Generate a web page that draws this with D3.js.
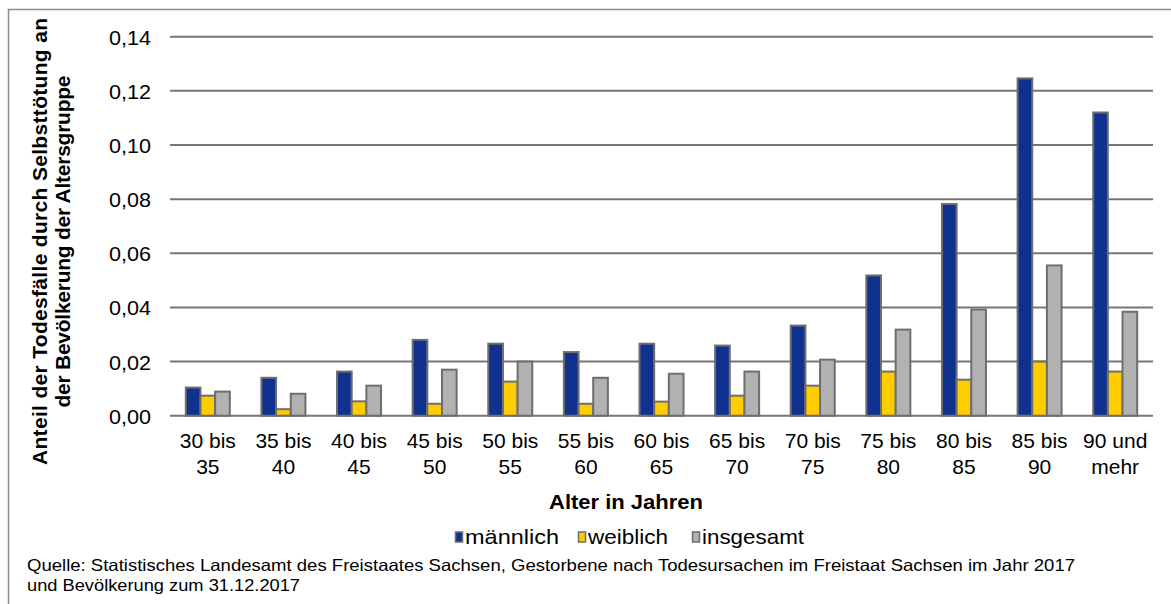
<!DOCTYPE html>
<html>
<head>
<meta charset="utf-8">
<script src="https://cdn.jsdelivr.net/npm/d3@7"></script>
<style>
  body { margin: 0; background: #fff; }
  text { font-family: "Liberation Sans", Arial, sans-serif; fill: #000; }
</style>
</head>
<body>
<div class="bar-chart"></div>
<script>
// Altersgruppen (two lines each)
var categories = [
  ["30 bis", "35"], ["35 bis", "40"], ["40 bis", "45"], ["45 bis", "50"],
  ["50 bis", "55"], ["55 bis", "60"], ["60 bis", "65"], ["65 bis", "70"],
  ["70 bis", "75"], ["75 bis", "80"], ["80 bis", "85"], ["85 bis", "90"],
  ["90 und", "mehr"]
];
var maennlich = [0.0104, 0.0140, 0.0163, 0.0280, 0.0266, 0.0235, 0.0266, 0.0259, 0.0333, 0.0518, 0.0782, 0.1246, 0.1120];
var weiblich  = [0.0074, 0.0024, 0.0053, 0.0044, 0.0126, 0.0044, 0.0052, 0.0074, 0.0111, 0.0163, 0.0133, 0.0200, 0.0163];
var insgesamt = [0.0089, 0.0081, 0.0111, 0.0170, 0.0200, 0.0140, 0.0155, 0.0163, 0.0207, 0.0318, 0.0392, 0.0555, 0.0384];
var seriesNames = ["männlich", "weiblich", "insgesamt"];
var seriesColors = ["#10318f", "#ffcc00", "#b2b2b2"];
var yTicks = [0, 0.02, 0.04, 0.06, 0.08, 0.10, 0.12, 0.14];
var yTitle = ["Anteil der Todesfälle durch Selbsttötung an", "der Bevölkerung der Altersgruppe"];
var xTitle = "Alter in Jahren";
var source = ["Quelle: Statistisches Landesamt des Freistaates Sachsen, Gestorbene nach Todesursachen im Freistaat Sachsen im Jahr 2017",
              "und Bevölkerung zum 31.12.2017"];

var width = 1171, height = 604;
var plot = { left: 170, right: 1153, top: 36.7, bottom: 415.7 };

var svg = d3.select(".bar-chart")
  .append("svg")
  .attr("width", width)
  .attr("height", height);

// outer frame
svg.append("rect")
  .attr("x", 8.5).attr("y", 9.5)
  .attr("width", width + 10).attr("height", height + 10)
  .attr("fill", "none")
  .attr("stroke", "#8c8c8c")
  .attr("stroke-width", 1.5);

var rows = categories.map(function (c, i) {
  return { cat: i, values: [maennlich[i], weiblich[i], insgesamt[i]] };
});

var xScale = d3.scaleBand()
  .domain(d3.range(categories.length))
  .range([plot.left, plot.right])
  .padding(0);

var groupW = 44;
var x1 = d3.scaleBand()
  .domain(d3.range(seriesNames.length))
  .range([0, groupW]);

var yScale = d3.scaleLinear()
  .domain([0, 0.14])
  .range([plot.bottom, plot.top]);

var fmt = function (d) { return d3.format(".2f")(d).replace(".", ","); };

// gridlines
svg.append("g")
  .selectAll("line")
  .data(yTicks)
  .enter()
  .append("line")
  .attr("x1", plot.left).attr("x2", plot.right)
  .attr("y1", function (d) { return yScale(d); })
  .attr("y2", function (d) { return yScale(d); })
  .attr("stroke", "#767676")
  .attr("stroke-width", 2);

// y tick labels
svg.append("g")
  .selectAll("text")
  .data(yTicks)
  .enter()
  .append("text")
  .attr("x", 151)
  .attr("y", function (d) { return yScale(d) + 8; })
  .attr("text-anchor", "end")
  .style("font-size", "20px")
  .attr("textLength", 42)
  .attr("lengthAdjust", "spacingAndGlyphs")
  .text(fmt);

// bars
var groups = svg.append("g")
  .selectAll("g")
  .data(rows)
  .enter()
  .append("g")
  .attr("transform", function (d) {
    return "translate(" + (xScale(d.cat) + (xScale.bandwidth() - groupW) / 2) + ",0)";
  });

groups.selectAll("rect")
  .data(function (d) { return d.values; })
  .enter()
  .append("rect")
  .attr("x", function (d, i) { return x1(i); })
  .attr("y", function (d) { return yScale(d); })
  .attr("width", x1.bandwidth())
  .attr("height", function (d) { return plot.bottom - yScale(d); })
  .attr("fill", function (d, i) { return seriesColors[i]; })
  .attr("stroke", "#6e6e6e")
  .attr("stroke-width", 2);

// x labels
var xl = svg.append("g")
  .selectAll("text")
  .data(categories)
  .enter()
  .append("text")
  .attr("text-anchor", "middle")
  .style("font-size", "21px")
  .attr("transform", function (d, i) {
    return "translate(" + (xScale(i) + xScale.bandwidth() / 2) + ",448)";
  });
xl.selectAll("tspan")
  .data(function (d) { return d; })
  .enter()
  .append("tspan")
  .attr("x", 0)
  .attr("dy", function (d, i) { return i === 0 ? 0 : 25.5; })
  .text(function (d) { return d; });

// y title
var yTitleLen = [447, 332];
var yt = svg.append("text")
  .attr("transform", "translate(47,241.5) rotate(-90)")
  .attr("text-anchor", "middle")
  .style("font-size", "21px")
  .style("font-weight", "bold");
yt.selectAll("tspan")
  .data(yTitle)
  .enter()
  .append("tspan")
  .attr("x", 0)
  .attr("dy", function (d, i) { return i === 0 ? 0 : 23; })
  .attr("textLength", function (d, i) { return yTitleLen[i]; })
  .attr("lengthAdjust", "spacing")
  .text(function (d) { return d; });

// x title
svg.append("text")
  .attr("x", 626).attr("y", 508.5)
  .attr("text-anchor", "middle")
  .style("font-size", "20px")
  .style("font-weight", "bold")
  .attr("textLength", 154)
  .attr("lengthAdjust", "spacingAndGlyphs")
  .text(xTitle);

// legend
var legendX = [455, 578, 692];
var legendLen = [94, 80, 102];
var legend = svg.append("g")
  .selectAll("g")
  .data(seriesNames)
  .enter()
  .append("g")
  .attr("transform", function (d, i) { return "translate(" + legendX[i] + ",531.5)"; });
legend.append("rect")
  .attr("x", 0.5).attr("y", 0.5)
  .attr("width", 7).attr("height", 10)
  .attr("fill", function (d, i) { return seriesColors[i]; })
  .attr("stroke", "#6e6e6e")
  .attr("stroke-width", 1.5);
legend.append("text")
  .attr("x", 10).attr("y", 12)
  .style("font-size", "21px")
  .attr("textLength", function (d, i) { return legendLen[i]; })
  .attr("lengthAdjust", "spacingAndGlyphs")
  .text(function (d) { return d; });

// source
var sourceLen = [1048, 273];
svg.append("g")
  .selectAll("text")
  .data(source)
  .enter()
  .append("text")
  .attr("x", 27)
  .attr("y", function (d, i) { return 571 + i * 20; })
  .style("font-size", "16.5px")
  .attr("textLength", function (d, i) { return sourceLen[i]; })
  .attr("lengthAdjust", "spacingAndGlyphs")
  .text(function (d) { return d; });
</script>
</body>
</html>
